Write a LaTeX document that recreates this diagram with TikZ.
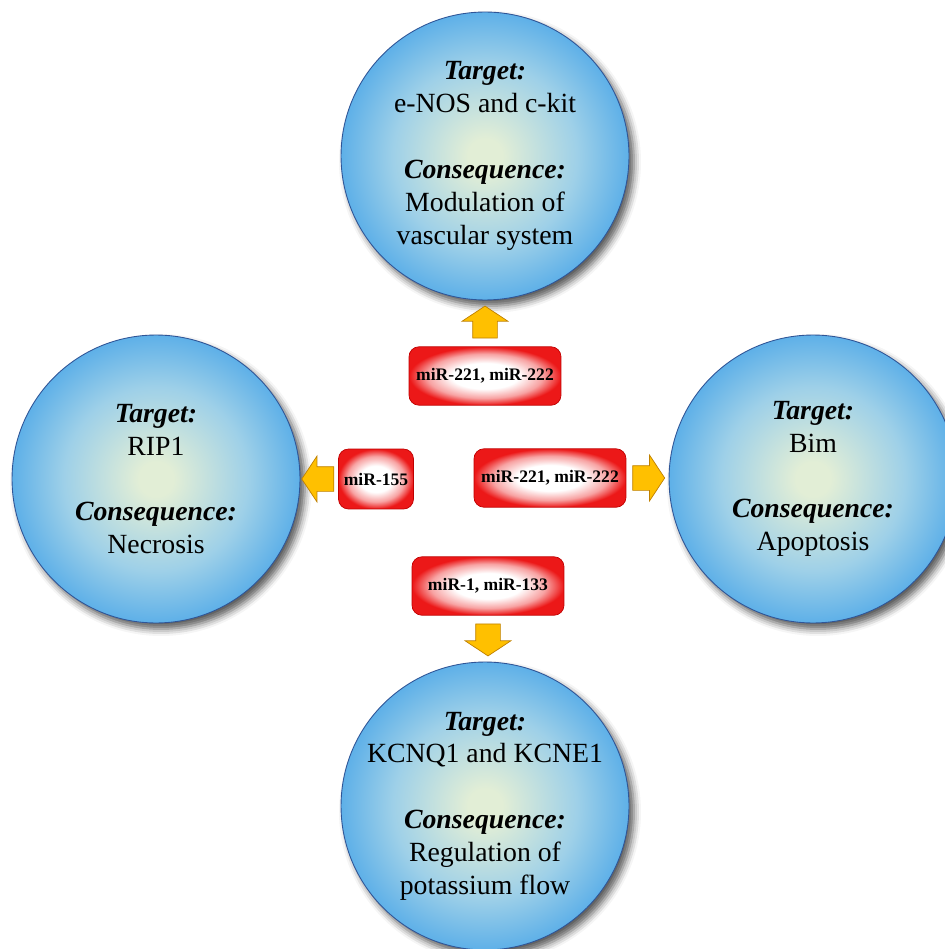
\documentclass[tikz,border=0pt]{standalone}
\usepackage{fontspec}
\setmainfont{Liberation Serif}
\definecolor{ballcenter}{RGB}{226, 238, 214}
\definecolor{ballmid}{RGB}{158, 208, 232}
\definecolor{balledge}{RGB}{94, 176, 232}
\definecolor{ballline}{RGB}{47, 85, 151}
\definecolor{mirred}{RGB}{236, 24, 24}
\definecolor{mirline}{RGB}{192, 0, 0}
\definecolor{arrowgold}{RGB}{255, 192, 0}
\definecolor{arrowline}{RGB}{191, 128, 0}
\usetikzlibrary{shapes.arrows, shadows.blur}

\pgfdeclareradialshading{ballshade}{\pgfpoint{0bp}{0bp}}{color(0bp)=(ballcenter); color(3bp)=(ballcenter); color(16bp)=(ballmid); color(25bp)=(balledge); color(50bp)=(balledge)}
\pgfdeclareradialshading{mirshade}{\pgfpoint{0bp}{0bp}}{color(0bp)=(white); color(11bp)=(white); color(19bp)=(mirred!40); color(25bp)=(mirred); color(50bp)=(mirred)}

\newcommand{\ballhead}[1]{\textbf{\textit{#1}}}

\tikzset{
  ball/.style={circle, draw=ballline, line width=0.5pt, shading=ballshade, minimum size=5.76cm,
    inner sep=-10pt, align=center, font=\fontsize{15.8}{18.7}\selectfont,
    blur shadow={shadow xshift=0.1cm, shadow yshift=-0.12cm, shadow blur radius=0.14cm, shadow opacity=65}},
  mirbox/.style={draw=mirline, line width=0.4pt, rounded corners=0.2cm, shading=mirshade,
    minimum height=1.17cm, font=\bfseries\fontsize{10}{12}\selectfont, inner sep=0pt},
  blockarrow/.style={single arrow, draw=arrowline, fill=arrowgold, line width=0.4pt,
    inner xsep=0pt, inner ysep=0.24cm, minimum height=0.64cm, single arrow head extend=0.21cm,
    single arrow tip angle=113, anchor=tail}
}

\begin{document}
\begin{tikzpicture}[x=0.02cm, y=-0.02cm]
  \useasboundingbox (0,0) rectangle (945,949);

  % circles
  \node[ball] (top) at (485,156) {\ballhead{Target:}\\e-NOS and c-kit\\[18.7pt]\ballhead{Consequence:}\\Modulation of\\vascular system};
  \node[ball] (left) at (156,479) {\ballhead{Target:}\\RIP1\\[18.7pt]\ballhead{Consequence:}\\Necrosis};
  \node[ball] (right) at (813,479) {\ballhead{Target:}\\Bim\\[18.7pt]\ballhead{Consequence:}\\Apoptosis};
  \node[ball] (bottom) at (485,806) {\ballhead{Target:}\\KCNQ1 and KCNE1\\[18.7pt]\ballhead{Consequence:}\\Regulation of\\potassium flow};

  % miRNA boxes
  \node[mirbox, minimum width=3.04cm] (mirTop) at (485,376) {miR-221, miR-222};
  \node[mirbox, minimum width=1.5cm, minimum height=1.2cm] (mirLeft) at (376,479) {miR-155};
  \node[mirbox, minimum width=3.04cm] (mirRight) at (550,478) {miR-221, miR-222};
  \node[mirbox, minimum width=3.04cm] (mirBottom) at (488,586) {miR-1, miR-133};

  % block arrows
  \node[blockarrow, rotate=90] (arrTop) at ([yshift=0.16cm]mirTop.north) {};
  \node[blockarrow, rotate=180] (arrLeft) at ([xshift=-0.08cm]mirLeft.west) {};
  \node[blockarrow] (arrRight) at ([xshift=0.12cm]mirRight.east) {};
  \node[blockarrow, rotate=270] (arrBottom) at ([yshift=-0.16cm]mirBottom.south) {};
\end{tikzpicture}
\end{document}
